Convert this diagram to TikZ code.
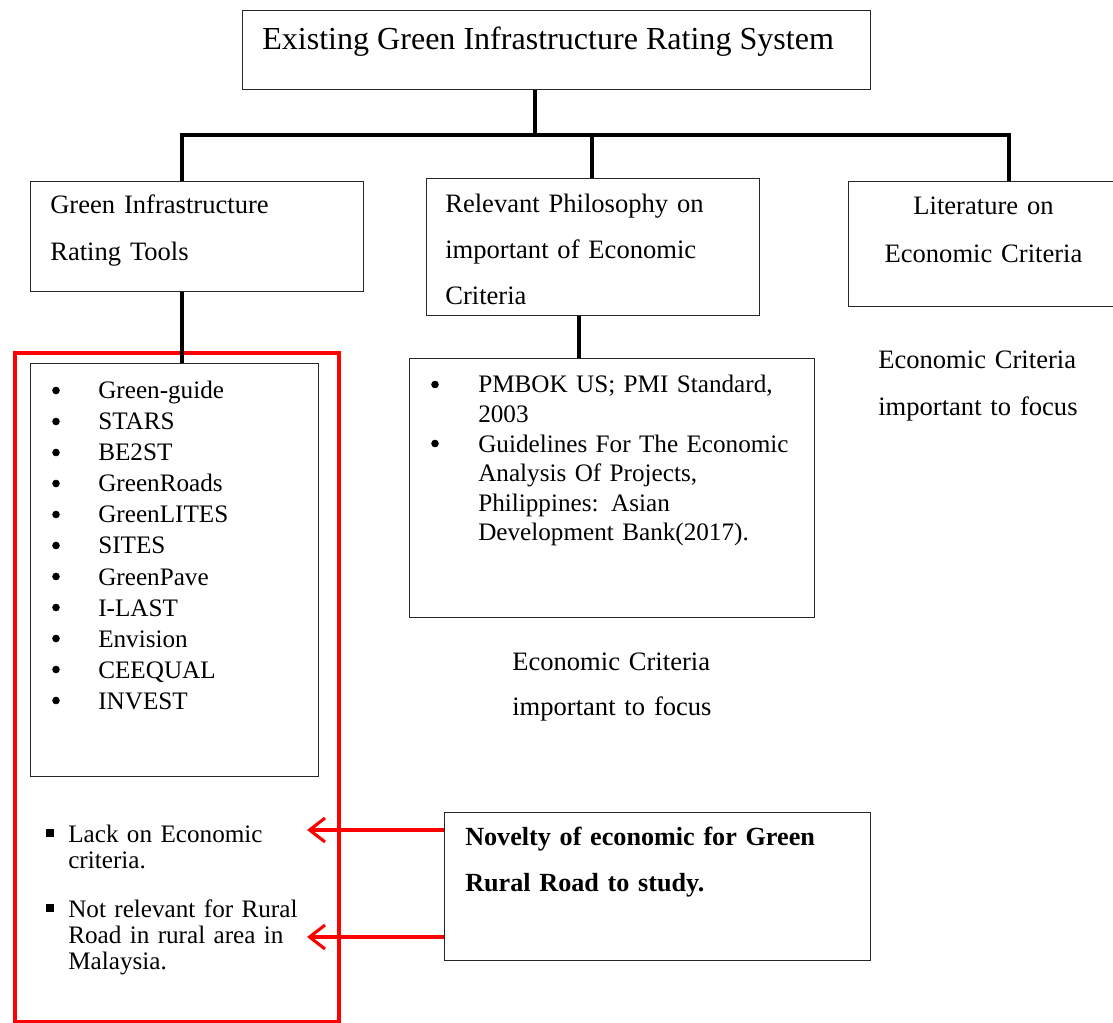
\documentclass[tikz,border=0pt]{standalone}
\usepackage{fontspec}
\setmainfont{Liberation Serif}
\usepackage{xcolor}
\usepackage{tikz}
\usetikzlibrary{arrows.meta}
\definecolor{GIRed}{HTML}{FF0000}
\definecolor{GIBox}{HTML}{262626}
\newcommand{\gibody}[1]{\fontsize{18.9pt}{#1}\selectfont}
\newcommand{\gilist}[1]{\fontsize{17.9pt}{#1}\selectfont}

\tikzset{
  frame/.style={draw=GIBox,line width=0.8pt,inner sep=0pt,anchor=north west},
  trunk/.style={draw=black,line width=2.8pt},
  pointer/.style={draw=GIRed,line width=2.2pt,-{Straight Barb[length=11pt,width=17pt]}},
  txt/.style={inner sep=0pt,anchor=base west,align=left},
  dot/.style={circle,fill=black,inner sep=0pt,minimum size=5.4pt},
  square/.style={fill=black,inner sep=0pt,minimum size=5pt}
}

\begin{document}
\begin{tikzpicture}[x=0.025cm,y=-0.025cm]
\path[use as bounding box,clip] (0,0) rectangle (1113,1023);
% boxes
\node[frame,minimum width=15.7cm,minimum height=1.975cm] (system) at (242,10) {};
\node[frame,minimum width=8.325cm,minimum height=2.75cm] (tools) at (30,181) {};
\node[frame,minimum width=8.325cm,minimum height=3.425cm] (philo) at (426,178) {};
\node[frame,minimum width=6.925cm,minimum height=3.125cm] (lit) at (848,181) {};
\node[frame,minimum width=7.2cm,minimum height=10.325cm] (list) at (30,363) {};
\node[frame,minimum width=10.125cm,minimum height=6.475cm] (pmbok) at (409,358) {};
\node[frame,minimum width=10.65cm,minimum height=3.7cm] (novelty) at (444,812) {};
\node[frame,draw=GIRed,line width=2.8pt,minimum width=8.1cm,minimum height=16.725cm] (gapframe) at (13,351) {};

% tree lines
\coordinate (hub) at (535,135);
\coordinate (jl) at (182,135);
\coordinate (jm) at (592,135);
\coordinate (jr) at (1009,135);
\coordinate (jp) at (579,315);
\draw[trunk] (system.south -| hub) -- (hub);
\draw[trunk] (jl |- tools.north) -- (jl) -- (jr) -- (jr |- lit.north);
\draw[trunk] (jm) -- (jm |- philo.north);
\draw[trunk] (tools.south -| jl) -- (list.north -| jl);
\draw[trunk] (philo.south -| jp) -- (pmbok.north -| jp);

% texts
\node[txt,font=\fontsize{22.8pt}{27pt}\selectfont] (systemtxt) at (262,50) {Existing Green Infrastructure Rating System};
\node[txt,text width=7.5cm,font=\gibody{33.4pt}] (toolstxt) at (50,214) {Green Infrastructure\\Rating Tools};
\node[txt,text width=7.5cm,font=\gibody{32.4pt}] (philotxt) at (445,213) {Relevant Philosophy on\\important of Economic\\Criteria};
\node[inner sep=0pt,anchor=base,text width=6cm,align=center,font=\gibody{34.1pt}] (littxt) at (983.5,215) {Literature on\\Economic Criteria};
\node[txt,text width=6cm,font=\gibody{33.4pt}] (focusR) at (878,369) {Economic Criteria\\important to focus};
\node[txt,text width=6cm,font=\gibody{32.7pt}] (focusL) at (512,670) {Economic Criteria\\important to focus};
\node[txt,text width=9.5cm,font=\fontsize{18.6pt}{33.4pt}\selectfont] (noveltytxt) at (465,845) {\bfseries Novelty of economic for Green\\Rural Road to study.};

% rating tools list
\foreach \tool [count=\i] in {Green-guide,STARS,BE2ST,GreenRoads,GreenLITES,SITES,GreenPave,I-LAST,Envision,CEEQUAL,INVEST}{
  \node[txt,font=\gilist{22pt}] (tool\i) at (98,{399+31*(\i-1)}) {\tool};
  \node[dot] (tooldot\i) at (56,{390.5+31*(\i-1)}) {};
}

% references list
\node[dot] (refdot1) at (435,384.5) {};
\node[dot] (refdot2) at (435,443.5) {};
\node[txt,text width=9cm,font=\gilist{21pt}] (pmboktxt) at (478,393) {PMBOK US; PMI Standard,\\2003\\Guidelines For The Economic\\Analysis Of Projects,\\Philippines: Asian\\Development Bank(2017).};

% gaps
\node[square] (sq1) at (50,833) {};
\node[txt,text width=7cm,font=\gilist{18.9pt}] (gap1) at (68,842) {Lack on Economic\\criteria.};
\node[square] (sq2) at (50,908) {};
\node[txt,text width=7cm,font=\gilist{18.6pt}] (gap2) at (68,917) {Not relevant for Rural\\Road in rural area in\\Malaysia.};

\coordinate (gapA) at (307,830);
\coordinate (gapB) at (307,937);
\draw[pointer] (novelty.west |- gapA) -- (gapA);
\draw[pointer] (novelty.west |- gapB) -- (gapB);
\end{tikzpicture}
\end{document}
